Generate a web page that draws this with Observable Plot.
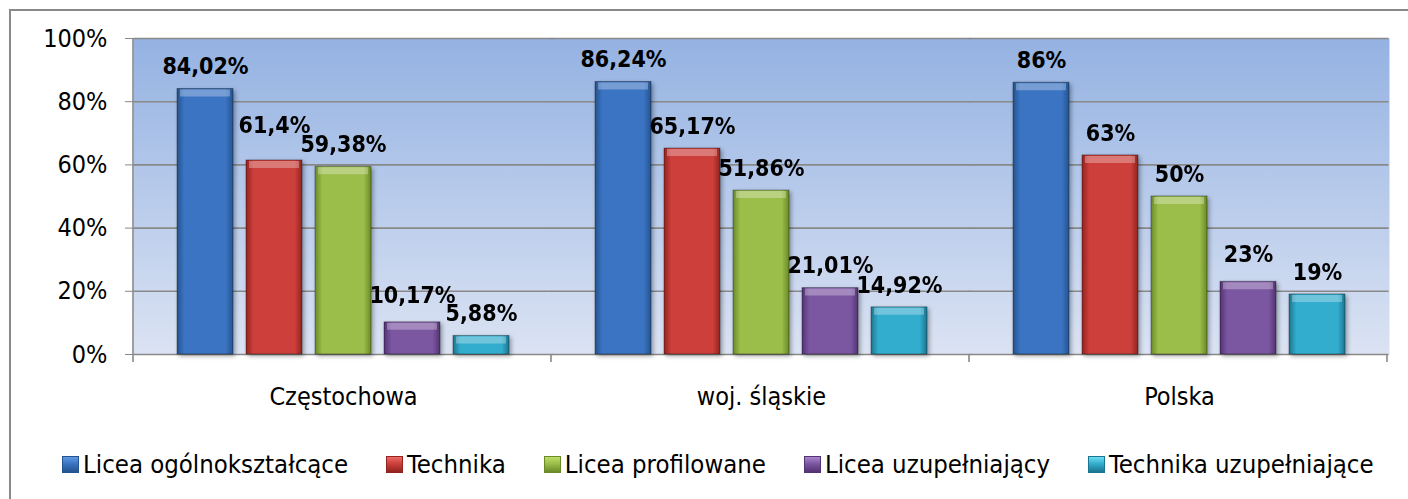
<!DOCTYPE html>
<html><head><meta charset="utf-8">
<script src="https://cdn.jsdelivr.net/npm/d3@7"></script>
<script src="https://cdn.jsdelivr.net/npm/@observablehq/plot@0.6"></script>
<style>
html,body{margin:0;padding:0;background:#fff;width:1408px;height:499px;overflow:hidden;font-family:"DejaVu Sans Condensed","DejaVu Sans",sans-serif;}
#frame{position:absolute;left:9px;top:9px;width:1500px;height:600px;border:2px solid #898989;box-sizing:border-box;}
#chart{position:absolute;left:0;top:0;}
#legend{position:absolute;left:62px;top:447px;width:1340px;display:flex;justify-content:flex-start;gap:38px;font-size:25.5px;color:#000;line-height:34px;}
.item{display:flex;align-items:center;gap:4px;white-space:nowrap;}
.sw{width:17px;height:17px;box-sizing:border-box;}
g[aria-label="bar"]{filter:drop-shadow(2px 2px 2px rgba(0,0,0,0.35));}
</style>
</head><body>
<div id="frame"></div>
<div id="chart"></div>
<div id="legend"></div>
<script>
const categories = ["Częstochowa", "woj. śląskie", "Polska"];
const series = ["Licea ogólnokształcące", "Technika", "Licea profilowane", "Licea uzupełniający", "Technika uzupełniające"];
const czestochowa = [84.02, 61.4, 59.38, 10.17, 5.88];
const slaskie = [86.24, 65.17, 51.86, 21.01, 14.92];
const polska = [86, 63, 50, 23, 19];
const yTicks = [0, 20, 40, 60, 80, 100];

// colours per series: [light, base, dark]
const colors = [
  ["#5f9be3", "#3b74c2", "#24538f"],
  ["#ee6a65", "#cc3f3b", "#92231f"],
  ["#c0dc68", "#9bbd49", "#6a8a28"],
  ["#a887cc", "#7b56a1", "#523373"],
  ["#6ddcf3", "#33adcd", "#1b7590"]
];

const values = [czestochowa, slaskie, polska];
const data = [];
categories.forEach((c, ci) => series.forEach((s, si) => {
  const v = values[ci][si];
  const next = si < series.length - 1 ? values[ci][si + 1] : -Infinity;
  // lift a label when the neighbouring label on its right sits at nearly the same height
  const gap = v - next;
  const lift = gap >= 0 && gap < 3 ? 2 : gap >= 0 && gap < 5 ? 1 : 0;
  data.push({category: c, series: s, value: v, lift});
}));
const fmt = v => String(v).replace(".", ",") + "%";
const labelOpts = {fx: "category", x: "series", y: "value", text: d => fmt(d.value), fontSize: 23, fontWeight: "bold", fill: "#000"};

const chart = Plot.plot({
  width: 1408,
  height: 430,
  marginTop: 38,
  marginLeft: 133,
  marginRight: 19,
  marginBottom: 76,
  style: {fontFamily: '"DejaVu Sans Condensed","DejaVu Sans",sans-serif', background: "transparent", overflow: "visible"},
  fx: {domain: categories, paddingInner: 0, paddingOuter: 0, label: null},
  x: {domain: series, paddingInner: 0.186, paddingOuter: 0.584, axis: null},
  y: {domain: [0, 100], label: null, axis: null},
  color: {domain: series, range: series.map((_, i) => `url(#bar${i})`)},
  marks: [
    Plot.frame({fill: "url(#bgGrad)", stroke: "none", insetLeft: -1, insetRight: -1}),
    Plot.ruleY(yTicks, {stroke: "#898989", strokeWidth: 1.6, insetLeft: -0.6, insetRight: -0.6}),
    Plot.barY(data, {fx: "category", x: "series", y: "value", fill: "series", stroke: "rgba(0,0,0,0.35)", strokeWidth: 1}),
    Plot.tickY(data, {fx: "category", x: "series", y: "value", stroke: "white", strokeOpacity: 0.3, strokeWidth: 7, dy: 4, insetLeft: 3, insetRight: 3}),
    Plot.text(data, {...labelOpts, filter: d => d.lift === 0, dy: -22}),
    Plot.text(data, {...labelOpts, filter: d => d.lift === 1, dy: -27}),
    Plot.text(data, {...labelOpts, filter: d => d.lift === 2, dy: -35}),
    Plot.axisY({ticks: yTicks, tickFormat: d => d + "%", tickSize: 9, tickPadding: 18, fontSize: 25, stroke: "#898989", fill: "#000", label: null}),
    Plot.axisFx({anchor: "bottom", tickSize: 0, tickPadding: 33, fontSize: 25, label: null, fill: "#000"})
  ]
});

const svg = d3.select(chart);
const defs = svg.insert("defs", ":first-child");
const bg = defs.append("linearGradient").attr("id", "bgGrad").attr("x1", 0).attr("y1", 0).attr("x2", 0).attr("y2", 1);
bg.append("stop").attr("offset", 0).attr("stop-color", "#94b2e2");
bg.append("stop").attr("offset", 1).attr("stop-color", "#dbe3f3");
colors.forEach(([l, b, d], i) => {
  const g = defs.append("linearGradient").attr("id", `bar${i}`).attr("x1", 0).attr("y1", 0).attr("x2", 1).attr("y2", 0);
  g.append("stop").attr("offset", 0).attr("stop-color", d);
  g.append("stop").attr("offset", 0.13).attr("stop-color", b);
  g.append("stop").attr("offset", 0.87).attr("stop-color", b);
  g.append("stop").attr("offset", 1).attr("stop-color", d);
});

// left axis line and category boundary ticks from the library's scales
const fx = chart.scale("fx");
const y = chart.scale("y");
const y0 = y.range[0], y1 = y.range[1];
const axisG = svg.append("g").attr("stroke", "#898989").attr("stroke-width", 1.6);
axisG.append("line").attr("x1", fx.range[0]).attr("x2", fx.range[0]).attr("y1", y1).attr("y2", y0 + 8);
for (let i = 1; i <= categories.length; i++) {
  const bx = fx.range[0] + i * fx.step;
  axisG.append("line").attr("x1", bx).attr("x2", bx).attr("y1", y0).attr("y2", y0 + 8);
}

document.getElementById("chart").appendChild(chart);

const legend = d3.select("#legend");
series.forEach((s, i) => {
  const [l, b, d] = colors[i];
  const it = legend.append("div").attr("class", "item");
  it.append("div").attr("class", "sw")
    .style("background", `linear-gradient(to bottom, ${l} 0%, ${b} 45%, ${d} 100%)`)
    .style("border", `1px solid ${d}`);
  it.append("span").text(s);
});
</script>
</body></html>
